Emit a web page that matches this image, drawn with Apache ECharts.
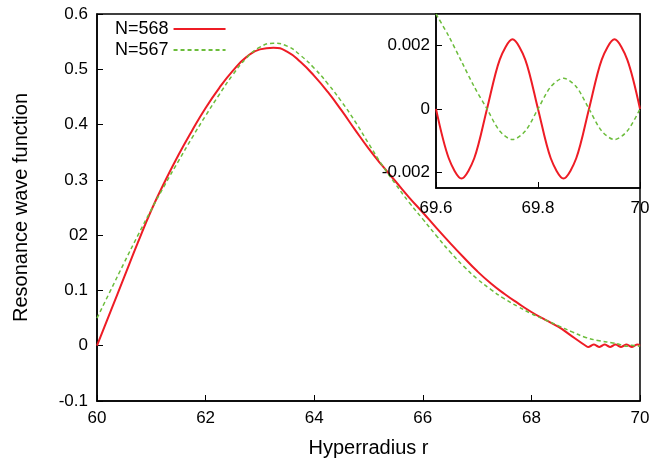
<!DOCTYPE html>
<html>
<head>
<meta charset="utf-8">
<script src="https://cdn.jsdelivr.net/npm/echarts@6/dist/echarts.min.js"></script>
<style>
  html, body { margin: 0; padding: 0; background: #fff; }
  #chart { width: 655px; height: 463px; }
</style>
</head>
<body>
<div id="chart"></div>
<script>
// main panel: hyperradius grid and the two wave functions
const rMain = [60, 60.25, 60.5, 60.75, 61, 61.25, 61.5, 61.75, 62, 62.25, 62.5, 62.75,
  63, 63.25, 63.5, 63.75, 64, 64.25, 64.5, 64.75, 65, 65.25, 65.5, 65.75,
  66, 66.25, 66.5, 66.75, 67, 67.25, 67.5, 67.75, 68, 68.25, 68.5, 68.75, 69];
const red568 = [0, 0.062, 0.124, 0.186, 0.245, 0.297, 0.345, 0.389, 0.43, 0.466, 0.497, 0.522,
  0.536, 0.539, 0.532, 0.513, 0.488, 0.459, 0.426, 0.391, 0.357, 0.326, 0.297, 0.268,
  0.241, 0.213, 0.186, 0.16, 0.135, 0.113, 0.094, 0.077, 0.061, 0.047, 0.034, 0.017, 0];
const green567 = [0.05, 0.1, 0.15, 0.199, 0.246, 0.291, 0.334, 0.376, 0.416, 0.454, 0.49, 0.52,
  0.54, 0.547, 0.542, 0.525, 0.502, 0.474, 0.442, 0.406, 0.366, 0.327, 0.292, 0.259,
  0.229, 0.199, 0.17, 0.144, 0.121, 0.102, 0.085, 0.071, 0.058, 0.047, 0.036, 0.025, 0.015];

// tail beyond r = 69 (small oscillations)
const rTailRed = [69.05, 69.1, 69.15, 69.2, 69.25, 69.3, 69.35, 69.4, 69.45, 69.5,
  69.55, 69.6, 69.65, 69.7, 69.75, 69.8, 69.85, 69.9, 69.95, 70];
const redTail = [-0.0022, 0, 0.0022, 0, -0.0022, 0, 0.0022, 0, -0.0022, 0,
  0.0022, 0, -0.0022, 0, 0.0022, 0, -0.0022, 0, 0.0022, 0];
const rTailGreen = [69.25, 69.5, 69.6, 69.7, 69.75, 69.8, 69.85, 69.9, 69.95, 70];
const greenTail = [0.009, 0.005, 0.003, 0, -0.001, 0, 0.001, 0, -0.001, 0];

// inset: zoom on 69.6 .. 70
const rInset = [69.6, 69.625, 69.65, 69.675, 69.7, 69.725, 69.75, 69.775, 69.8,
  69.825, 69.85, 69.875, 69.9, 69.925, 69.95, 69.975, 70];
const redInset = [0, -0.00156, -0.0022, -0.00156, 0, 0.00156, 0.0022, 0.00156, 0,
  -0.00156, -0.0022, -0.00156, 0, 0.00156, 0.0022, 0.00156, 0];
const greenInset = [0.003, 0.0023, 0.0015, 0.0007, 0, -0.0007, -0.00097, -0.0007, 0,
  0.0007, 0.00097, 0.0007, 0, -0.0007, -0.00097, -0.0007, 0];

const yTicks = [-0.1, 0, 0.1, 0.2, 0.3, 0.4, 0.5, 0.6];
const yTickLabels = ['-0.1', '0', '0.1', '02', '0.3', '0.4', '0.5', '0.6'];

const RED = '#ee1c25';
const GREEN = '#6cbd3c';
const FONT = 'Liberation Sans';

const zip = (xs, ys) => xs.map((x, i) => [x, ys[i]]);

const chart = echarts.init(document.getElementById('chart'), null, { renderer: 'canvas' });

const axisText = { color: '#000', fontFamily: FONT, fontSize: 17 };
const frameLine = { onZero: false, lineStyle: { color: '#000', width: 1.5 } };
const innerTick = { inside: true, length: 6, lineStyle: { color: '#000' } };

chart.setOption({
  animation: false,
  backgroundColor: '#fff',
  textStyle: { fontFamily: FONT, color: '#000' },
  grid: [
    { left: 97, width: 543, top: 14, height: 391, show: true, borderColor: '#000', borderWidth: 1.5 },
    { left: 436, width: 204, top: 14, height: 174, show: true, z: 10,
      backgroundColor: '#fff', borderColor: '#000', borderWidth: 1.5 }
  ],
  legend: {
    orient: 'vertical', left: 110, top: 15, align: 'right',
    itemWidth: 52, itemHeight: 14, itemGap: 3,
    itemStyle: { opacity: 0 },
    textStyle: { fontFamily: FONT, fontSize: 18, color: '#000' },
    data: ['N=568', 'N=567']
  },
  xAxis: [
    {
      type: 'value', gridIndex: 0, min: 60, max: 70, interval: 2,
      name: 'Hyperradius r', nameLocation: 'middle', nameGap: 37,
      nameTextStyle: { fontFamily: FONT, fontSize: 20, color: '#000' },
      axisLine: frameLine, axisTick: innerTick,
      axisLabel: Object.assign({ margin: 9 }, axisText),
      splitLine: { show: false }
    },
    {
      type: 'value', gridIndex: 1, min: 69.6, max: 70, interval: 0.2, z: 11,
      axisLine: frameLine, axisTick: innerTick,
      axisLabel: Object.assign({ margin: 12,
        formatter: v => String(Math.round(v * 10) / 10) }, axisText),
      splitLine: { show: false }
    }
  ],
  yAxis: [
    {
      type: 'value', gridIndex: 0, min: -0.1, max: 0.6, interval: 0.1,
      name: 'Resonance wave function', nameLocation: 'middle', nameGap: 66,
      nameTextStyle: { fontFamily: FONT, fontSize: 20, color: '#000' },
      axisLine: frameLine, axisTick: innerTick,
      axisLabel: Object.assign({ margin: 9, formatter: v => {
        const i = yTicks.findIndex(t => Math.abs(t - v) < 1e-9);
        return i >= 0 ? yTickLabels[i] : '';
      } }, axisText),
      splitLine: { show: false }
    },
    {
      type: 'value', gridIndex: 1, min: -0.0025, max: 0.003, splitNumber: 3, z: 11,
      axisLine: frameLine, axisTick: innerTick,
      axisLabel: Object.assign({ margin: 6, showMinLabel: false, showMaxLabel: false,
        formatter: v => {
          const r = Math.round(v * 1000) / 1000;
          return Math.abs(r - v) < 1e-9 && Math.abs(r) < 0.0025 ? String(r) : '';
        } }, axisText),
      splitLine: { show: false }
    }
  ],
  series: [
    {
      name: 'N=568', type: 'line', xAxisIndex: 0, yAxisIndex: 0, showSymbol: false, symbol: 'none',
      smooth: 0.5, data: zip(rMain, red568).concat(zip(rTailRed, redTail)),
      lineStyle: { color: RED, width: 2 }, itemStyle: { color: RED }
    },
    {
      name: 'N=567', type: 'line', xAxisIndex: 0, yAxisIndex: 0, showSymbol: false, symbol: 'none',
      smooth: 0.5, data: zip(rMain, green567).concat(zip(rTailGreen, greenTail)),
      lineStyle: { color: GREEN, width: 1.5, type: [4, 3] }, itemStyle: { color: GREEN }
    },
    {
      name: 'N=568', type: 'line', xAxisIndex: 1, yAxisIndex: 1, showSymbol: false, symbol: 'none',
      smooth: 0.3, z: 12, data: zip(rInset, redInset),
      lineStyle: { color: RED, width: 2 }, itemStyle: { color: RED }
    },
    {
      name: 'N=567', type: 'line', xAxisIndex: 1, yAxisIndex: 1, showSymbol: false, symbol: 'none',
      smooth: 0.3, z: 12, data: zip(rInset, greenInset),
      lineStyle: { color: GREEN, width: 1.5, type: [4, 3] }, itemStyle: { color: GREEN }
    }
  ]
});
</script>
</body>
</html>
